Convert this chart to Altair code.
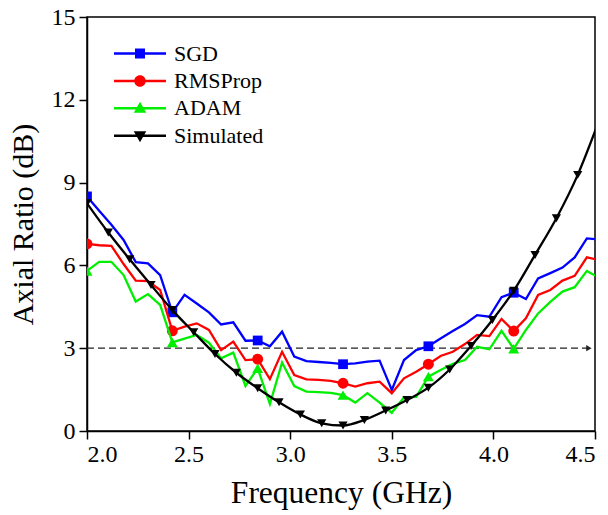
import altair as alt
import pandas as pd

# ---- series definitions -------------------------------------------------
SERIES = ["SGD", "RMSProp", "ADAM", "Simulated"]
COLORS = ["#0000ff", "#ff0000", "#00ee00", "#000000"]
SHAPES = ["square", "circle", "triangle-up", "triangle-down"]
MARK_SIZES = [95, 120, 120, 85]

# optimiser predictions, sampled every 0.06 GHz
FREQ = [2.00, 2.06, 2.12, 2.18, 2.24, 2.30, 2.36, 2.42, 2.48, 2.54,
        2.60, 2.66, 2.72, 2.78, 2.84, 2.90, 2.96, 3.02, 3.08, 3.14,
        3.20, 3.26, 3.32, 3.38, 3.44, 3.50, 3.56, 3.62, 3.68, 3.74,
        3.80, 3.86, 3.92, 3.98, 4.04, 4.10, 4.16, 4.22, 4.28, 4.34,
        4.40, 4.46, 4.52]

SGD = [8.50, 7.98, 7.47, 6.92, 6.12, 6.07, 5.65, 4.30, 4.93, 4.62,
       4.30, 3.86, 3.94, 3.27, 3.28, 3.07, 3.60, 2.70, 2.53, 2.50,
       2.47, 2.42, 2.45, 2.51, 2.55, 1.49, 2.57, 2.93, 3.07, 3.35,
       3.62, 3.88, 4.20, 4.14, 4.85, 5.01, 4.78, 5.53, 5.72, 5.92,
       6.29, 6.98, 6.94]

RMSPROP = [6.78, 6.73, 6.71, 6.05, 5.45, 5.43, 5.11, 3.63, 3.78, 3.90,
           3.66, 2.93, 3.24, 2.57, 2.60, 1.88, 2.87, 2.03, 1.87, 1.85,
           1.82, 1.73, 1.61, 1.73, 1.79, 1.37, 1.91, 2.15, 2.42, 2.72,
           2.87, 3.15, 3.48, 3.44, 4.06, 3.62, 4.08, 4.93, 5.11, 5.45,
           5.62, 6.29, 6.20]

ADAM = [5.80, 6.13, 6.13, 5.65, 4.69, 4.96, 4.57, 3.21, 3.35, 3.48,
        3.20, 2.63, 2.84, 1.63, 2.27, 0.98, 2.48, 1.63, 1.43, 1.41,
        1.38, 1.30, 1.03, 1.37, 1.03, 0.66, 1.22, 1.24, 1.97, 2.21,
        2.43, 2.57, 3.05, 2.96, 3.63, 2.98, 3.66, 4.26, 4.68, 5.05,
        5.21, 5.80, 5.55]

# full-wave simulation, sampled every 0.105 GHz
SIM_FREQ = [2.000, 2.105, 2.210, 2.315, 2.420, 2.525, 2.630, 2.735, 2.840,
            2.945, 3.050, 3.155, 3.260, 3.365, 3.470, 3.575, 3.680, 3.785,
            3.890, 3.995, 4.100, 4.205, 4.310, 4.415, 4.520]

SIMULATED = [8.25, 7.19, 6.22, 5.29, 4.38, 3.58, 2.79, 2.11, 1.55,
             1.04, 0.60, 0.28, 0.20, 0.40, 0.74, 1.12, 1.57, 2.23,
             3.08, 4.02, 5.08, 6.38, 7.71, 9.28, 11.25]

OPT_MARKER_STEP = 7          # optimiser curves carry a symbol every 7th sample
F_MIN, F_MAX = 2.0, 4.5
AR_MIN, AR_MAX = 0, 15
X_TICKS = [2.0, 2.5, 3.0, 3.5, 4.0, 4.5]
Y_TICKS = [0, 3, 6, 9, 12, 15]

# 3 dB axial-ratio limit
REF_AR = 3.0
REF_FREQ = [2.0, 4.47]

# legend glyphs: a short line segment with the series symbol on top
SEG = "M-5.2,-0.25H5.2V0.25H-5.2Z"
LEGEND_PATHS = [
    SEG + " M-1,-1H1V1H-1Z",
    SEG + " M-1.15,0A1.15,1.15,0,1,1,1.15,0A1.15,1.15,0,1,1,-1.15,0Z",
    SEG + " M0,-1.3L1.25,0.9H-1.25Z",
    SEG + " M0,1.3L-1.25,-0.9H1.25Z",
]

FONT = "Liberation Serif, Times New Roman, serif"

# ---- tables ---------------------------------------------------------------
frames = {}
for name, vals in zip(SERIES[:3], [SGD, RMSPROP, ADAM]):
    frames[name] = pd.DataFrame({
        "freq": FREQ,
        "ar": vals,
        "marker": [(i % OPT_MARKER_STEP == 0) and f < F_MAX for i, f in enumerate(FREQ)],
    })
frames["Simulated"] = pd.DataFrame({
    "freq": SIM_FREQ,
    "ar": SIMULATED,
    "marker": [f < F_MAX for f in SIM_FREQ],
})

ref_df = pd.DataFrame({"freq": REF_FREQ, "ar": [REF_AR] * len(REF_FREQ)})

X = alt.X("freq:Q",
          scale=alt.Scale(domain=[F_MIN, F_MAX], nice=False, zero=False),
          axis=alt.Axis(values=X_TICKS, format=".1f", title="Frequency (GHz)",
                        labelPadding=3, titlePadding=11, titleFontSize=31.5))
Y = alt.Y("ar:Q",
          scale=alt.Scale(domain=[AR_MIN, AR_MAX], nice=False),
          axis=alt.Axis(values=Y_TICKS, format="d", title="Axial Ratio (dB)",
                        labelPadding=4, titlePadding=13))

# ---- layers ---------------------------------------------------------------
layers = []

ref_line = alt.Chart(ref_df).mark_line(
    color="#222222", strokeWidth=1.3, strokeDash=[7, 4]
).encode(x=X, y=Y)
ref_arrow = alt.Chart(ref_df).transform_filter(
    f"datum.freq == {REF_FREQ[-1]}"
).mark_point(shape="triangle-right", filled=True, size=40, color="#222222",
             opacity=1).encode(x=X, y=Y)
layers += [ref_line, ref_arrow]

for name, color, shape, size in zip(SERIES, COLORS, SHAPES, MARK_SIZES):
    df = frames[name]
    line = alt.Chart(df).mark_line(
        color=color, strokeWidth=2.3, clip=True,
        interpolate="monotone" if name == "Simulated" else "linear",
    ).encode(x=X, y=Y)
    pts = alt.Chart(df).transform_filter("datum.marker").mark_point(
        shape=shape, filled=True, size=size, color=color, opacity=1, clip=True
    ).encode(x=X, y=Y)
    layers += [line, pts]

legend_props = dict(
    title=None, orient="none", legendX=42, legendY=25.5,
    labelFont=FONT, labelFontSize=22, labelColor="black", labelLimit=300,
    labelOffset=23, symbolSize=100, symbolStrokeWidth=0, symbolOpacity=1,
    rowPadding=5.4, padding=0,
)
legend_df = pd.DataFrame({"series": SERIES})
legend_layer = alt.Chart(legend_df).mark_point(filled=True, opacity=0).encode(
    color=alt.Color("series:N", scale=alt.Scale(domain=SERIES, range=COLORS),
                    legend=alt.Legend(**legend_props)),
    shape=alt.Shape("series:N", scale=alt.Scale(domain=SERIES, range=LEGEND_PATHS),
                    legend=alt.Legend(**legend_props)),
)
layers.append(legend_layer)

chart = alt.layer(*layers).properties(
    width=508, height=414,
    autosize=alt.AutoSizeParams(type="none"),
    padding={"left": 87, "top": 17, "right": 13, "bottom": 84},
    background="white",
).configure_view(
    stroke="black", strokeWidth=1.5
).configure_axis(
    grid=False, domainColor="black", domainWidth=1.5,
    tickColor="black", tickWidth=1.5, tickSize=8,
    labelFont=FONT, labelFontSize=24, labelColor="black",
    titleFont=FONT, titleFontSize=30, titleFontWeight="normal", titleColor="black",
).configure_legend(
    labelFont=FONT
)

chart.save("out.html", embed_options={"renderer": "svg", "actions": False})
